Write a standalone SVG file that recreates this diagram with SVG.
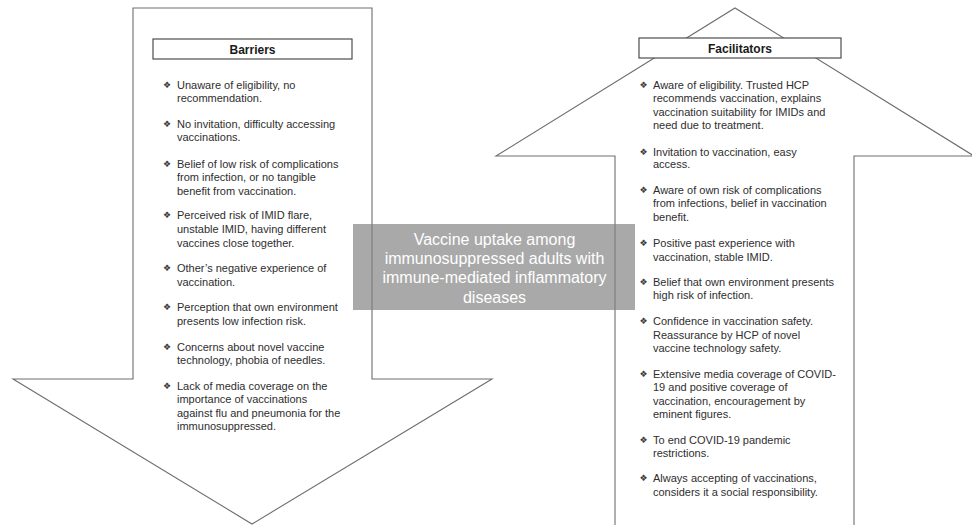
<svg xmlns="http://www.w3.org/2000/svg" width="972" height="525" viewBox="0 0 972 525">
  <style>
    .arrow { fill: #ffffff; stroke: #6e6e6e; stroke-width: 1.1; stroke-linejoin: miter; }
    .head { fill: #ffffff; stroke: #4d4d4d; stroke-width: 1.2; }
    .title { font-family: "Liberation Sans", Arial, sans-serif; font-size: 12px; font-weight: bold; fill: #1a1a1a; text-anchor: middle; }
    .item { font-family: "Liberation Sans", Arial, sans-serif; font-size: 11px; fill: #2e2e2e; }
    .bul { font-family: "DejaVu Sans", sans-serif; font-size: 9px; fill: #3a3a3a; text-anchor: middle; }
    .core { fill: #808080; fill-opacity: 0.68; }
    .coretext { font-family: "Liberation Sans", Arial, sans-serif; font-size: 16px; fill: #ffffff; text-anchor: middle; }
  </style>

  <!-- Down arrow: barriers -->
  <g id="barriers">
    <path class="arrow" d="M133,8 L372,8 L372,379 L492,379 L252,524 L13,379 L133,379 Z"/>
    <rect class="head" x="153" y="39" width="199" height="20"/>
    <text class="title" x="252.5" y="54">Barriers</text>
    <g>
      <text class="bul" x="167" y="88">❖</text>
      <text class="item"><tspan x="177" y="89">Unaware of eligibility, no</tspan><tspan x="177" y="102.3">recommendation.</tspan></text>
      <text class="bul" x="167" y="127">❖</text>
      <text class="item"><tspan x="177" y="128">No invitation, difficulty accessing</tspan><tspan x="177" y="141.3">vaccinations.</tspan></text>
      <text class="bul" x="167" y="167">❖</text>
      <text class="item"><tspan x="177" y="168">Belief of low risk of complications</tspan><tspan x="177" y="181.3">from infection, or no tangible</tspan><tspan x="177" y="194.7">benefit from vaccination.</tspan></text>
      <text class="bul" x="167" y="218">❖</text>
      <text class="item"><tspan x="177" y="219">Perceived risk of IMID flare,</tspan><tspan x="177" y="233">unstable IMID, having different</tspan><tspan x="177" y="247">vaccines close together.</tspan></text>
      <text class="bul" x="167" y="271.3">❖</text>
      <text class="item"><tspan x="177" y="272.3">Other’s negative experience of</tspan><tspan x="177" y="285.7">vaccination.</tspan></text>
      <text class="bul" x="167" y="310.3">❖</text>
      <text class="item"><tspan x="177" y="311.3">Perception that own environment</tspan><tspan x="177" y="324.7">presents low infection risk.</tspan></text>
      <text class="bul" x="167" y="349.7">❖</text>
      <text class="item"><tspan x="177" y="350.7">Concerns about novel vaccine</tspan><tspan x="177" y="364">technology, phobia of needles.</tspan></text>
      <text class="bul" x="167" y="388.7">❖</text>
      <text class="item"><tspan x="177" y="389.7">Lack of media coverage on the</tspan><tspan x="177" y="403">importance of vaccinations</tspan><tspan x="177" y="416.7">against flu and pneumonia for the</tspan><tspan x="177" y="430">immunosuppressed.</tspan></text>
    </g>
  </g>

  <!-- Up arrow: facilitators -->
  <g id="facilitators">
    <path class="arrow" d="M615,530 L615,156 L496,156 L735,8 L974,156 L854,156 L854,530"/>
    <rect class="head" x="639" y="38" width="202" height="20"/>
    <text class="title" x="740" y="53">Facilitators</text>
    <g>
      <text class="bul" x="643.5" y="88">❖</text>
      <text class="item"><tspan x="653" y="89">Aware of eligibility.  Trusted HCP</tspan><tspan x="653" y="101.7">recommends vaccination, explains</tspan><tspan x="653" y="115.7">vaccination suitability for IMIDs and</tspan><tspan x="653" y="129">need due to treatment.</tspan></text>
      <text class="bul" x="643.5" y="154.7">❖</text>
      <text class="item"><tspan x="653" y="155.7">Invitation to vaccination, easy</tspan><tspan x="653" y="168">access.</tspan></text>
      <text class="bul" x="643.5" y="193">❖</text>
      <text class="item"><tspan x="653" y="194">Aware of own risk of complications</tspan><tspan x="653" y="207.3">from infections, belief in vaccination</tspan><tspan x="653" y="221.3">benefit.</tspan></text>
      <text class="bul" x="643.5" y="245.7">❖</text>
      <text class="item"><tspan x="653" y="246.7">Positive past experience with</tspan><tspan x="653" y="260.7">vaccination, stable IMID.</tspan></text>
      <text class="bul" x="643.5" y="284.7">❖</text>
      <text class="item"><tspan x="653" y="285.7">Belief that own environment presents</tspan><tspan x="653" y="299">high risk of infection.</tspan></text>
      <text class="bul" x="643.5" y="324">❖</text>
      <text class="item"><tspan x="653" y="325">Confidence in vaccination safety.</tspan><tspan x="653" y="339">Reassurance by HCP of novel</tspan><tspan x="653" y="352.3">vaccine technology safety.</tspan></text>
      <text class="bul" x="643.5" y="377">❖</text>
      <text class="item"><tspan x="653" y="378">Extensive media coverage of COVID-</tspan><tspan x="653" y="390.7">19 and positive coverage of</tspan><tspan x="653" y="404.7">vaccination, encouragement by</tspan><tspan x="653" y="418">eminent figures.</tspan></text>
      <text class="bul" x="643.5" y="443">❖</text>
      <text class="item"><tspan x="653" y="444">To end COVID-19 pandemic</tspan><tspan x="653" y="457.3">restrictions.</tspan></text>
      <text class="bul" x="643.5" y="481.3">❖</text>
      <text class="item"><tspan x="653" y="482.3">Always accepting of vaccinations,</tspan><tspan x="653" y="495.7">considers it a social responsibility.</tspan></text>
    </g>
  </g>

  <!-- Central topic panel -->
  <g id="topic">
    <rect class="core" x="353" y="224" width="282" height="86"/>
    <text class="coretext"><tspan x="494.5" y="245">Vaccine uptake among</tspan><tspan x="494.5" y="264.2">immunosuppressed adults with</tspan><tspan x="494.5" y="283.4">immune-mediated inflammatory</tspan><tspan x="494.5" y="302.6">diseases</tspan></text>
  </g>

  <g id="connectors"/>
</svg>
